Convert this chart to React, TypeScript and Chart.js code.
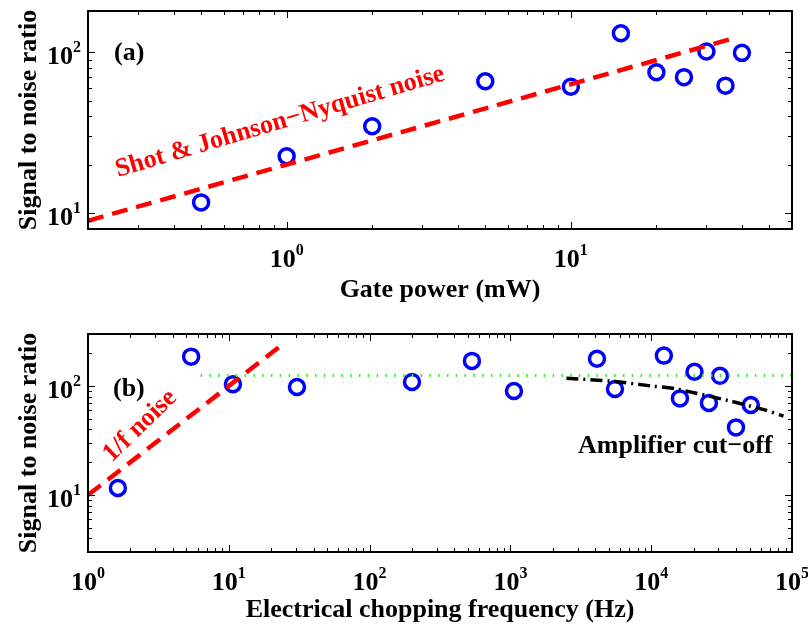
import React, { useEffect, useRef } from 'react';
import { Chart, registerables } from 'chart.js';

Chart.register(...registerables);

// ---------- Panel (a): SNR vs gate power ----------
const gatePowerMW = [0.5, 1, 2, 5, 10, 15, 20, 25, 30, 35, 40];
const snrGate = [11.7, 22.6, 34.7, 66, 61, 131, 75, 70, 101, 62, 99];
const shotNoisePower = [0.2, 38];
const shotNoiseSnr = [9, 123];
const xTicksA = [1, 10];
const yTicksA = [10, 100];

// ---------- Panel (b): SNR vs chopping frequency ----------
const chopFreqHz = [1.63, 5.4, 10.7, 30.5, 200, 533, 1060, 4120, 5530, 12300, 16000, 20300, 25700, 30800, 40000, 51000];
const snrChop = [11.6, 186, 104, 98, 109, 170, 90, 178, 94, 190, 77, 135, 70, 124, 41.7, 67];
const oneOverFFreq = [1, 24];
const oneOverFSnr = [10, 240];
const plateauFreq = [6.3, 100000];
const plateauSnr = [125, 125];
const cutoffFreq = [2500, 5500, 10000, 15000, 36000, 62000, 87000];
const cutoffSnr = [118, 110, 100, 94, 73, 61, 53];
const xTicksB = [1, 10, 100, 1000, 10000, 100000];
const yTicksB = [10, 100];

const FONT = '"Liberation Serif", "Times New Roman", Times, serif';

type Note = {
  text: string;
  dx: number;
  dy: number;
  angle?: number;
  color?: string;
  align?: CanvasTextAlign;
  baseline?: CanvasTextBaseline;
};

type Spec = {
  xMajor: number[];
  yMajor: number[];
  xTitle: string;
  yTitle: string;
  xTitleDy: number;
  notes: Note[];
};

const zip = (xs: number[], ys: number[]) => xs.map((x, i) => ({ x, y: ys[i] }));

function drawText(ctx: CanvasRenderingContext2D, n: Note, x: number, y: number, size = 26) {
  ctx.save();
  ctx.translate(x, y);
  if (n.angle) ctx.rotate((n.angle * Math.PI) / 180);
  ctx.font = `bold ${size}px ${FONT}`;
  ctx.fillStyle = n.color || '#000';
  ctx.textAlign = n.align || 'left';
  ctx.textBaseline = n.baseline || 'alphabetic';
  ctx.fillText(n.text, 0, 0);
  ctx.restore();
}

function drawPow(ctx: CanvasRenderingContext2D, exp: string, x: number, y: number, mode: 'center' | 'right') {
  ctx.save();
  ctx.fillStyle = '#000';
  ctx.textBaseline = 'alphabetic';
  ctx.textAlign = 'left';
  ctx.font = `bold 26px ${FONT}`;
  const w1 = ctx.measureText('10').width;
  ctx.font = `bold 16px ${FONT}`;
  const w2 = ctx.measureText(exp).width;
  const start = mode === 'center' ? x - (w1 + w2) / 2 : x - (w1 + w2);
  ctx.font = `bold 26px ${FONT}`;
  ctx.fillText('10', start, y);
  ctx.font = `bold 16px ${FONT}`;
  ctx.fillText(exp, start + w1, y - 12);
  ctx.restore();
}

function axesPlugin(spec: Spec) {
  return {
    id: 'matlabAxes',
    afterDatasetsDraw(chart: any) {
      const { ctx, chartArea: a, scales } = chart;
      const xs = scales.x;
      const ys = scales.y;
      ctx.save();
      ctx.strokeStyle = '#000';
      ctx.lineWidth = 1;
      const tickX = (v: number, len: number) => {
        const px = Math.round(xs.getPixelForValue(v)) + 0.5;
        ctx.beginPath();
        ctx.moveTo(px, a.bottom);
        ctx.lineTo(px, a.bottom - len);
        ctx.moveTo(px, a.top);
        ctx.lineTo(px, a.top + len);
        ctx.stroke();
      };
      const tickY = (v: number, len: number) => {
        const py = Math.round(ys.getPixelForValue(v)) + 0.5;
        ctx.beginPath();
        ctx.moveTo(a.left, py);
        ctx.lineTo(a.left + len, py);
        ctx.moveTo(a.right, py);
        ctx.lineTo(a.right - len, py);
        ctx.stroke();
      };
      const minorTicks = (scale: any, fn: (v: number, l: number) => void) => {
        const lo = Math.floor(Math.log10(scale.min));
        const hi = Math.ceil(Math.log10(scale.max));
        for (let d = lo; d <= hi; d++) {
          for (let k = 2; k <= 9; k++) {
            const v = k * Math.pow(10, d);
            if (v > scale.min * 1.0001 && v < scale.max * 0.9999) fn(v, 4);
          }
        }
      };
      minorTicks(xs, tickX);
      minorTicks(ys, tickY);
      spec.xMajor.forEach((v) => {
        if (v > xs.min * 1.0001 && v < xs.max * 0.9999) tickX(v, 7);
      });
      spec.yMajor.forEach((v) => {
        if (v > ys.min * 1.0001 && v < ys.max * 0.9999) tickY(v, 7);
      });
      ctx.lineWidth = 2;
      ctx.strokeRect(a.left, a.top, a.right - a.left, a.bottom - a.top);

      spec.xMajor.forEach((v) => {
        const px = xs.getPixelForValue(v);
        drawPow(ctx, String(Math.round(Math.log10(v))), px, a.bottom + 38, 'center');
      });
      spec.yMajor.forEach((v) => {
        const py = ys.getPixelForValue(v);
        drawPow(ctx, String(Math.round(Math.log10(v))), a.left - 7, py + 12, 'right');
      });

      drawText(ctx, { text: spec.xTitle, dx: 0, dy: 0, align: 'center' }, (a.left + a.right) / 2, a.bottom + spec.xTitleDy);
      drawText(ctx, { text: spec.yTitle, dx: 0, dy: 0, align: 'center', angle: -90 }, 36, a.top + 109);

      spec.notes.forEach((n) => drawText(ctx, n, a.left + n.dx, a.top + n.dy));
      ctx.restore();
    },
  };
}

function Panel({ height, padding, xRange, yRange, datasets, spec }: any) {
  const ref = useRef<HTMLCanvasElement | null>(null);
  useEffect(() => {
    if (!ref.current) return;
    const chart = new Chart(ref.current, {
      type: 'scatter',
      data: { datasets },
      options: {
        animation: false,
        responsive: false,
        maintainAspectRatio: false,
        layout: { padding },
        plugins: { legend: { display: false }, tooltip: { enabled: false } },
        scales: {
          x: { type: 'logarithmic', min: xRange[0], max: xRange[1], display: false },
          y: { type: 'logarithmic', min: yRange[0], max: yRange[1], display: false },
        },
      },
      plugins: [axesPlugin(spec)],
    } as any);
    return () => chart.destroy();
  }, []);
  return <canvas ref={ref} width={808} height={height} style={{ display: 'block', width: 808, height }} />;
}

const circleStyle = {
  type: 'scatter',
  pointStyle: 'circle',
  pointRadius: 7.5,
  pointBorderWidth: 3.5,
  borderColor: '#0000ff',
  backgroundColor: 'rgba(0,0,0,0)',
  pointBackgroundColor: 'rgba(0,0,0,0)',
  pointBorderColor: '#0000ff',
  order: 2,
};

const lineStyle = (color: string, width: number, dash: number[]) => ({
  type: 'line',
  showLine: true,
  borderColor: color,
  borderWidth: width,
  borderDash: dash,
  borderCapStyle: 'butt',
  pointRadius: 0,
  fill: false,
  tension: 0,
  order: 1,
});

export default function App() {
  const datasetsA = [
    { ...lineStyle('#ff0000', 4.5, [16, 9]), data: zip(shotNoisePower, shotNoiseSnr) },
    { ...circleStyle, data: zip(gatePowerMW, snrGate) },
  ];
  const datasetsB = [
    { ...lineStyle('#ff0000', 4.5, [16, 9]), data: zip(oneOverFFreq, oneOverFSnr) },
    { ...lineStyle('#33ee33', 3, [1.5, 7.3]), data: zip(plateauFreq, plateauSnr) },
    { ...lineStyle('#000000', 3.5, [12, 5, 2, 5]), tension: 0.3, data: zip(cutoffFreq, cutoffSnr) },
    { ...circleStyle, data: zip(chopFreqHz, snrChop) },
  ];
  const specA: Spec = {
    xMajor: xTicksA,
    yMajor: yTicksA,
    xTitle: 'Gate power (mW)',
    yTitle: 'Signal to noise ratio',
    xTitleDy: 68,
    notes: [
      { text: '(a)', dx: 26, dy: 49 },
      { text: 'Shot & Johnson\u2212Nyquist noise', dx: 192, dy: 111, angle: -16.5, color: '#ff0000', align: 'center', baseline: 'middle' },
    ],
  };
  const specB: Spec = {
    xMajor: xTicksB,
    yMajor: yTicksB,
    xTitle: 'Electrical chopping frequency (Hz)',
    yTitle: 'Signal to noise ratio',
    xTitleDy: 65,
    notes: [
      { text: '(b)', dx: 25, dy: 62 },
      { text: '1/f noise', dx: 52, dy: 92, angle: -44, color: '#ff0000', align: 'center', baseline: 'middle' },
      { text: 'Amplifier cut\u2212off', dx: 490, dy: 119 },
    ],
  };
  return (
    <div style={{ position: 'absolute', left: 0, top: 0, width: 808, height: 624, background: '#fff' }}>
      <Panel height={310} padding={{ left: 88, right: 16, top: 11, bottom: 81 }} xRange={[0.2, 60]} yRange={[8, 180]} datasets={datasetsA} spec={specA} />
      <Panel height={314} padding={{ left: 88, right: 16, top: 24, bottom: 72 }} xRange={[1, 100000]} yRange={[3, 300]} datasets={datasetsB} spec={specB} />
    </div>
  );
}
